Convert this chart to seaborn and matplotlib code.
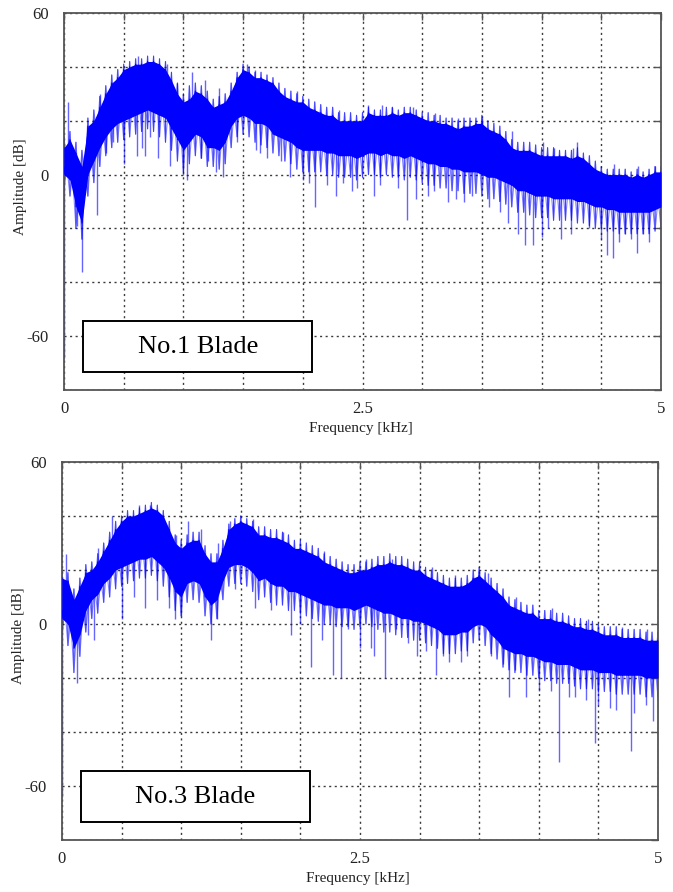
import numpy as np
import pandas as pd
import seaborn as sns
import matplotlib.pyplot as plt
from matplotlib.patches import Rectangle

# frequency grid of the readings [kHz]
FREQ = [0.00, 0.05, 0.10, 0.15, 0.20, 0.25, 0.30, 0.35, 0.40, 0.45,
        0.50, 0.55, 0.60, 0.65, 0.70, 0.75, 0.80, 0.85, 0.90, 0.95,
        1.00, 1.05, 1.10, 1.15, 1.20, 1.25, 1.30, 1.35, 1.40, 1.45,
        1.50, 1.55, 1.60, 1.65, 1.70, 1.75, 1.80, 1.85, 1.90, 1.95,
        2.00, 2.05, 2.10, 2.15, 2.20, 2.25, 2.30, 2.35, 2.40, 2.45,
        2.50, 2.55, 2.60, 2.65, 2.70, 2.75, 2.80, 2.85, 2.90, 2.95,
        3.00, 3.05, 3.10, 3.15, 3.20, 3.25, 3.30, 3.35, 3.40, 3.45,
        3.50, 3.55, 3.60, 3.65, 3.70, 3.75, 3.80, 3.85, 3.90, 3.95,
        4.00, 4.05, 4.10, 4.15, 4.20, 4.25, 4.30, 4.35, 4.40, 4.45,
        4.50, 4.55, 4.60, 4.65, 4.70, 4.75, 4.80, 4.85, 4.90, 4.95,
        5.00]

# No.1 blade: top / bottom of the solid band [dB]
B1_UPPER = [10, 13, 8, 3, 18, 20, 25, 30, 34, 36,
            39, 40, 41, 41, 42, 42, 41, 39, 35, 30,
            27, 28, 31, 30, 28, 25, 26, 27, 31, 36,
            39, 38, 36, 36, 35, 34, 31, 29, 28, 27,
            27, 25, 24, 23, 22, 22, 20, 20, 20, 20,
            20, 23, 22, 22, 22, 23, 22, 23, 23, 22,
            21, 20, 20, 19, 19, 18, 17, 18, 18, 19,
            19, 17, 16, 15, 13, 10, 9, 9, 9, 8,
            7, 7, 7, 7, 7, 6, 7, 6, 4, 2,
            1, 0, 0, 0, 0, -1, 0, -1, 0, 1,
            1]
B1_LOWER = [0, -2, -12, -18, 0, 5, 10, 14, 17, 19,
            20, 21, 22, 23, 24, 23, 22, 21, 17, 13,
            9, 12, 15, 14, 10, 10, 9, 12, 18, 21,
            22, 21, 19, 19, 18, 15, 14, 13, 12, 10,
            9, 9, 9, 9, 8, 8, 7, 7, 7, 6,
            7, 8, 8, 7, 8, 7, 7, 6, 7, 6,
            5, 4, 4, 3, 3, 2, 2, 1, 1, 1,
            0, -1, -1, -2, -3, -4, -6, -6, -7, -8,
            -8, -8, -9, -9, -9, -9, -10, -10, -11, -12,
            -12, -13, -13, -14, -14, -14, -14, -14, -14, -13,
            -12]
# No.1 blade: reach of the dense fringe around the band [dB]
B1_FRINGE_HI = [14, 16, 12, 9, 21, 24, 29, 33, 37, 39,
                41, 42, 43, 43, 44, 44, 43, 42, 38, 34,
                30, 33, 34, 33, 31, 28, 29, 30, 34, 38,
                41, 40, 38, 38, 37, 36, 34, 32, 31, 30,
                29, 28, 27, 26, 25, 25, 23, 23, 23, 22,
                23, 25, 24, 24, 25, 25, 24, 25, 25, 24,
                23, 23, 22, 22, 21, 21, 20, 21, 21, 21,
                22, 20, 19, 18, 16, 13, 12, 12, 12, 11,
                10, 10, 10, 9, 9, 9, 10, 8, 7, 5,
                3, 2, 2, 2, 2, 1, 2, 1, 2, 3,
                3]
B1_FRINGE_LO = [-6, -8, -20, -24, -8, -3, 3, 7, 10, 12,
                13, 14, 15, 16, 17, 16, 14, 12, 9, 5,
                1, 4, 7, 6, 3, 3, 2, 4, 10, 14,
                15, 14, 12, 11, 10, 8, 7, 5, 4, 2,
                1, 1, 1, 1, 0, 0, -1, -1, -1, -2,
                -1, 0, 0, -1, 0, -1, -1, -2, -1, -2,
                -3, -4, -4, -5, -5, -6, -6, -7, -7, -7,
                -8, -9, -9, -10, -11, -12, -14, -14, -15, -16,
                -16, -16, -17, -17, -17, -17, -18, -18, -19, -20,
                -20, -21, -21, -22, -22, -22, -22, -22, -22, -21,
                -20]
# No.1 blade: isolated spikes (frequency, tip level)
B1_SPIKE_F = [0.0, 0.036, 0.106, 0.148, 0.28, 0.30, 0.35, 0.41, 0.50, 0.61,
              0.62, 0.65, 0.68, 0.72, 0.79, 0.86, 0.89, 0.95, 1.00, 1.03,
              1.07, 1.15, 1.18, 1.21, 1.27, 1.30, 1.335, 1.45, 1.53, 1.60,
              1.61, 1.64, 1.70, 1.82, 1.89, 1.95, 2.00, 2.05, 2.10, 2.20,
              2.28, 2.30, 2.34, 2.41, 2.45, 2.55, 2.60, 2.65, 2.66, 2.75,
              2.80, 2.87, 2.92, 2.95, 3.05, 3.10, 3.11, 3.22, 3.28, 3.30,
              3.35, 3.42, 3.50, 3.56, 3.65, 3.72, 3.75, 3.80, 3.86, 3.93,
              4.00, 4.01, 4.05, 4.10, 4.16, 4.25, 4.26, 4.30, 4.40, 4.50,
              4.55, 4.60, 4.61, 4.65, 4.70, 4.75, 4.80, 4.81, 4.85, 4.90,
              4.95, 5.00]
B1_SPIKE_DB = [-68, 27, -19, -36, -15, 30, 8, 12, 4, 7,
               44, 10, 7, 14, 6, 41, 3, 34, 0, -2,
               38, 6, 35, 5, 1, 32, -1, 12, 41, 39,
               9, 8, 6, 5, -1, 31, -2, -3, -12, -4,
               -8, 24, -3, -6, -5, 26, -8, -4, 26, 25,
               -5, -17, 25, -9, -8, -6, 23, -10, -9, 21,
               -10, -8, 21, -12, -14, -18, 16, -22, -26, -26,
               -23, 12, -20, 10, -24, -22, 10, 12, -20, -24,
               -30, -31, 4, -25, -22, -24, -29, 3, -22, -25,
               3, -34]

# No.3 blade: top / bottom of the solid band [dB]
B3_UPPER = [17, 16, 9, 14, 19, 20, 23, 27, 31, 35,
            38, 40, 40, 41, 42, 43, 42, 40, 35, 30,
            28, 30, 31, 31, 26, 23, 23, 28, 35, 37,
            38, 37, 36, 33, 33, 32, 32, 31, 30, 28,
            28, 27, 26, 25, 23, 22, 21, 20, 19, 19,
            20, 20, 21, 22, 22, 23, 22, 22, 21, 20,
            20, 18, 17, 16, 15, 14, 14, 14, 15, 17,
            18, 16, 14, 12, 10, 7, 6, 5, 4, 4,
            2, 2, 2, 1, 1, 0, -1, -1, -2, -2,
            -3, -4, -4, -4, -5, -5, -5, -5, -6, -6,
            -6]
B3_LOWER = [2, 0, -9, -4, 5, 9, 11, 15, 17, 20,
            21, 22, 23, 24, 24, 25, 23, 21, 17, 12,
            10, 15, 16, 15, 10, 7, 9, 16, 21, 22,
            22, 21, 19, 16, 17, 15, 14, 14, 12, 12,
            11, 10, 9, 8, 7, 7, 6, 6, 6, 5,
            6, 7, 6, 5, 4, 4, 3, 2, 2, 1,
            1, 0, -1, -2, -4, -4, -4, -3, -3, -1,
            0, -1, -4, -6, -9, -10, -11, -11, -12, -12,
            -13, -14, -14, -15, -15, -15, -16, -17, -17, -17,
            -18, -18, -18, -19, -19, -19, -19, -19, -20, -20,
            -20]
# No.3 blade: reach of the dense fringe around the band [dB]
B3_FRINGE_HI = [20, 19, 13, 17, 22, 23, 26, 30, 34, 38,
                40, 42, 42, 43, 44, 45, 44, 42, 38, 33,
                31, 33, 34, 34, 29, 26, 26, 31, 37, 39,
                40, 39, 38, 36, 36, 35, 35, 34, 33, 31,
                31, 30, 29, 28, 26, 25, 24, 23, 22, 22,
                23, 23, 24, 25, 25, 26, 25, 25, 24, 23,
                23, 21, 20, 19, 18, 17, 17, 17, 18, 20,
                21, 19, 17, 15, 13, 10, 9, 8, 7, 7,
                5, 5, 5, 4, 4, 3, 2, 2, 1, 1,
                0, -1, -1, -1, -2, -2, -2, -2, -3, -3,
                -3]
B3_FRINGE_LO = [-5, -8, -18, -12, -3, 2, 4, 8, 10, 13,
                14, 15, 16, 17, 17, 18, 16, 14, 10, 5,
                3, 8, 9, 8, 3, 0, 2, 9, 14, 15,
                15, 14, 12, 9, 10, 8, 7, 7, 5, 5,
                4, 3, 2, 1, 0, 0, -1, -1, -1, -2,
                -1, 0, -1, -2, -3, -3, -4, -5, -5, -6,
                -6, -7, -8, -9, -11, -11, -11, -10, -10, -7,
                -6, -8, -11, -13, -16, -17, -18, -18, -19, -19,
                -20, -21, -21, -22, -22, -22, -23, -24, -24, -24,
                -25, -25, -25, -26, -26, -26, -26, -26, -27, -27,
                -27]
# No.3 blade: isolated spikes (frequency, tip level)
B3_SPIKE_F = [0.0, 0.03, 0.13, 0.22, 0.27, 0.30, 0.42, 0.50, 0.60, 0.65,
              0.70, 0.74, 0.80, 0.90, 0.95, 0.96, 1.00, 1.06, 1.17, 1.25,
              1.30, 1.31, 1.41, 1.45, 1.60, 1.62, 1.75, 1.85, 1.92, 2.00,
              2.09, 2.18, 2.20, 2.27, 2.34, 2.40, 2.50, 2.55, 2.59, 2.62,
              2.71, 2.77, 2.80, 2.90, 2.98, 3.05, 3.10, 3.14, 3.20, 3.25,
              3.30, 3.35, 3.40, 3.50, 3.57, 3.60, 3.70, 3.75, 3.80, 3.81,
              3.89, 4.00, 4.10, 4.11, 4.17, 4.25, 4.30, 4.40, 4.41, 4.47,
              4.50, 4.60, 4.65, 4.70, 4.77, 4.80, 4.90, 4.91, 4.955]
B3_SPIKE_DB = [-64, 26, -22, -4, -6, 28, 40, 2, 10, 44,
               6, 44, 9, 6, 2, 33, 3, 38, 35, -6,
               2, 30, 38, 13, 39, 6, 5, 34, -4, 0,
               -16, -6, 27, -19, -20, -2, -9, 24, -9, -12,
               -20, 24, -2, -7, -12, -10, 21, -19, -12, -14,
               18, -14, -12, 20, 19, -12, -15, -27, -17, 10,
               -27, -25, -25, 6, -51, -27, -27, -28, 2, -44,
               -30, -31, -32, -1, -47, -33, -30, -2, -36]

BLUE = "#0000ff"
GRID = "#3a3a3a"
SPINE = "#555555"


def zigzag(freq, first, second):
    # walk across the readings, touching both edges at every frequency
    xs, ys = [], []
    for i, f in enumerate(freq):
        xs += [f, f]
        ys += [first[i], second[i]]
    return pd.DataFrame({"freq": xs, "amp": ys})


def draw_panel(ax, upper, lower, fr_hi, fr_lo, spike_f, spike_db, label):
    freq = np.array(FREQ)
    upper = np.array(upper, dtype=float)
    lower = np.array(lower, dtype=float)

    # cross-hatched fringe of the noisy spectrum
    for a, b in ((fr_hi, fr_lo), (fr_lo, fr_hi)):
        sns.lineplot(data=zigzag(freq, a, b), x="freq", y="amp",
                     sort=False, estimator=None, color=BLUE, lw=0.8,
                     alpha=0.5, ax=ax, zorder=2)
    # solid core
    ax.fill_between(freq, lower, upper, color=BLUE, lw=0, zorder=3)
    sns.lineplot(data=zigzag(freq, upper, lower), x="freq", y="amp",
                 sort=False, estimator=None, color=BLUE, lw=0.8, ax=ax, zorder=3)

    # spikes sticking out of the band
    base = np.interp(spike_f, freq, (upper + lower) / 2)
    ax.vlines(spike_f, base, spike_db, color=BLUE, lw=1.0, alpha=0.6, zorder=2)

    ax.set_xlim(0, 5)
    ax.set_ylim(-80, 60)
    xt = np.arange(0, 5.01, 0.5)
    ax.set_xticks(xt)
    ax.set_xticklabels(["0" if v == 0 else "2.5" if v == 2.5 else "5" if v == 5 else "" for v in xt])
    yt = np.arange(-80, 61, 20)
    ax.set_yticks(yt)
    ax.set_yticklabels([str(v) if v in (-60, 0, 60) else "" for v in yt])
    ax.grid(True, color=GRID, linestyle=(0, (1.5, 2.5)), lw=1.0)
    ax.set_axisbelow(True)
    ax.tick_params(direction="in", length=5, width=1, color=SPINE,
                   top=True, right=True, labelsize=12, labelcolor="#222222")
    ax.tick_params(axis="x", pad=8)
    ax.tick_params(axis="y", pad=11)
    for sp in ax.spines.values():
        sp.set_color(SPINE)
        sp.set_linewidth(1.3)

    ax.set_xlabel("Frequency [kHz]", fontsize=11, color="#222222")
    ax.set_ylabel("Amplitude [dB]", fontsize=11, color="#222222")
    ax.xaxis.set_label_coords(0.497, -0.085)
    ax.yaxis.set_label_coords(-0.062, 0.54)

    box = Rectangle((0.032, 0.048), 0.384, 0.135, transform=ax.transAxes,
                    facecolor="white", edgecolor="black", lw=1.4, zorder=5)
    ax.add_patch(box)
    ax.text(0.224, 0.113, label, transform=ax.transAxes, ha="center",
            va="center", fontsize=19, color="black", zorder=6)


def main() -> None:
    sns.set_style("white")
    plt.rcParams["font.family"] = ["Liberation Serif", "DejaVu Serif"]

    fig = plt.figure(figsize=(6.73, 8.92), dpi=100)
    ax1 = fig.add_axes([0.0951, 0.5628, 0.8871, 0.4226])
    ax2 = fig.add_axes([0.0921, 0.0583, 0.8856, 0.4238])

    draw_panel(ax1, B1_UPPER, B1_LOWER, B1_FRINGE_HI, B1_FRINGE_LO,
               B1_SPIKE_F, B1_SPIKE_DB, "No.1 Blade")
    draw_panel(ax2, B3_UPPER, B3_LOWER, B3_FRINGE_HI, B3_FRINGE_LO,
               B3_SPIKE_F, B3_SPIKE_DB, "No.3 Blade")

    fig.savefig("out.png", dpi=100)


if __name__ == "__main__":
    main()
